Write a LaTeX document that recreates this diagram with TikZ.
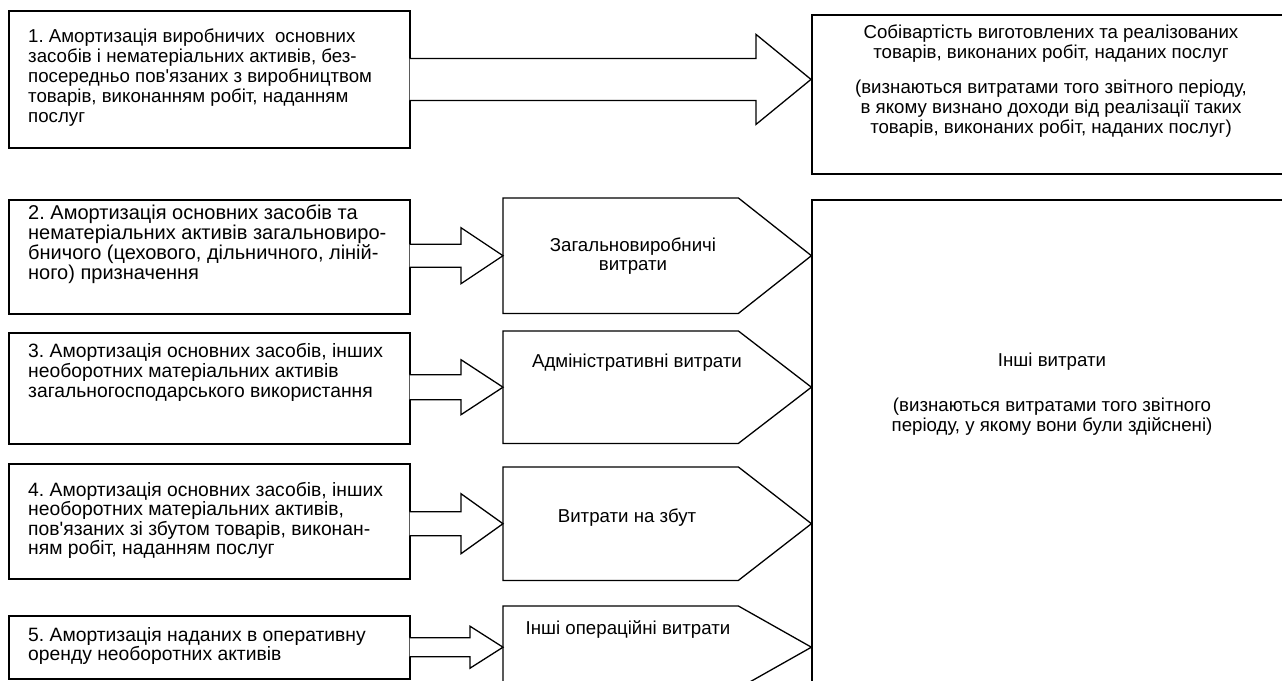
\documentclass[tikz,border=0pt]{standalone}
\usepackage{fontspec}
\setmainfont{Liberation Sans}
\usepackage{tikz}
\usetikzlibrary{positioning, calc}
\frenchspacing

\newcommand{\diagfont}{\fontsize{18.67pt}{19.8pt}\selectfont}
\tikzstyle{srcbox}=[rectangle,draw=black,line width=1.8pt,anchor=north west,
minimum width=401pt,inner sep=0pt]
\tikzstyle{srctext}=[anchor=north west,align=left,inner sep=0pt,font=\diagfont]
\tikzstyle{costbox}=[rectangle,draw=black,line width=1.8pt,anchor=north west,
minimum width=520pt,inner sep=0pt]
\tikzstyle{stage}=[rectangle,anchor=north west,minimum width=235pt,inner sep=0pt]
\tikzstyle{stageline}=[line width=1.3pt,line join=miter]
\tikzstyle{midtext}=[align=center,inner sep=0pt,font=\diagfont]
\tikzstyle{blockarrow}=[line width=1.3pt,line join=miter,fill=white]

% block arrow: source node, tip, half shaft, half head, head length
\newcommand{\blockarrow}[5]{%
  \draw[blockarrow] ($(#1.east |- #2)+(-1.3,-#3)$) -- ($(#2)+(-#5,-#3)$)
    -- ($(#2)+(-#5,-#4)$) -- (#2) -- ($(#2)+(-#5,#4)$)
    -- ($(#2)+(-#5,#3)$) -- ($(#1.east |- #2)+(-1.3,#3)$);}

\begin{document}
\begin{tikzpicture}[x=1pt,y=-1pt]
    \clip (0,0) rectangle (1282,680);

    \node[srcbox, minimum height=137pt] (src1) at (8,10) {};
    \node[srcbox, minimum height=114pt] (src2) at (8,199) {};
    \node[srcbox, minimum height=111pt] (src3) at (8,332) {};
    \node[srcbox, minimum height=115pt] (src4) at (8,463) {};
    \node[srcbox, minimum height=63pt] (src5) at (8,615) {};

    \node[srctext] (txt1) at (28,29) {1. Амортизація виробничих\ \ основних\\засобів і нематеріальних активів, без-\\посередньо пов\textquotesingle язаних з виробництвом\\товарів, виконанням робіт, наданням\\послуг};
    \node[srctext, font=\fontsize{20pt}{20pt}\selectfont] (txt2) at (28,205) {2. Амортизація основних засобів та\\нематеріальних активів загальновиро-\\бничого (цехового, дільничного, ліній-\\ного) призначення};
    \node[srctext, font=\fontsize{19.3pt}{20pt}\selectfont] (txt3) at (28,343) {3. Амортизація основних засобів, інших\\необоротних матеріальних активів\\загальногосподарського використання};
    \node[srctext, font=\fontsize{19.3pt}{19.5pt}\selectfont] (txt4) at (28,482) {4. Амортизація основних засобів, інших\\необоротних матеріальних активів,\\пов\textquotesingle язаних зі збутом товарів, виконан-\\ням робіт, наданням послуг};
    \node[srctext, font=\fontsize{19.3pt}{19.5pt}\selectfont] (txt5) at (28,627) {5. Амортизація наданих в оперативну\\оренду необоротних активів};

    \node[costbox, minimum height=159pt] (cost) at (811,14) {};
    \node[costbox, minimum height=540pt] (other) at (811,199) {};
    \node[midtext, anchor=north] (costtxt) at (1051,25) {Собівартість виготовлених та реалізованих\\товарів, виконаних робіт, наданих послуг\\[15pt](визнаються витратами того звітного періоду,\\в якому визнано доходи від реалізації таких\\товарів, виконаних робіт, наданих послуг)};
    \node[midtext, anchor=north] (othertxt) at (1052,353) {Інші витрати\\[25pt](визнаються витратами того звітного\\періоду, у якому вони були здійснені)};

    \node[stage, minimum height=115pt] (st1) at (503,198) {};
    \node[stage, minimum height=112pt] (st2) at (503,331) {};
    \node[stage, minimum height=113pt] (st3) at (503,467) {};
    \node[stage, minimum height=82pt] (st4) at (503,606) {};
    \foreach \s in {st1,st2,st3,st4} {
        \coordinate (\s-tip) at ($(\s.east)+(73,0)$);
        \draw[stageline] (\s.north west) -- (\s.north east) -- (\s-tip)
            -- (\s.south east) -- (\s.south west) -- cycle;
    }
    \node[midtext] (st1txt) at (633,256) {Загальновиробничі\\витрати};
    \node[midtext] (st2txt) at (637,363) {Адміністративні витрати};
    \node[midtext] (st3txt) at (627,518) {Витрати на збут};
    \node[midtext] (st4txt) at (628,630) {Інші операційні витрати};

    \coordinate (costin) at (cost.west |- src1.east);
    \blockarrow{src1}{costin}{21}{45}{55}
    \blockarrow{src2}{st1.west}{11.5}{28}{42}
    \blockarrow{src3}{st2.west}{12.5}{27.5}{42}
    \blockarrow{src4}{st3.west}{12}{30}{42}
    \blockarrow{src5}{st4.west}{9.5}{21}{33}
\end{tikzpicture}
\end{document}
